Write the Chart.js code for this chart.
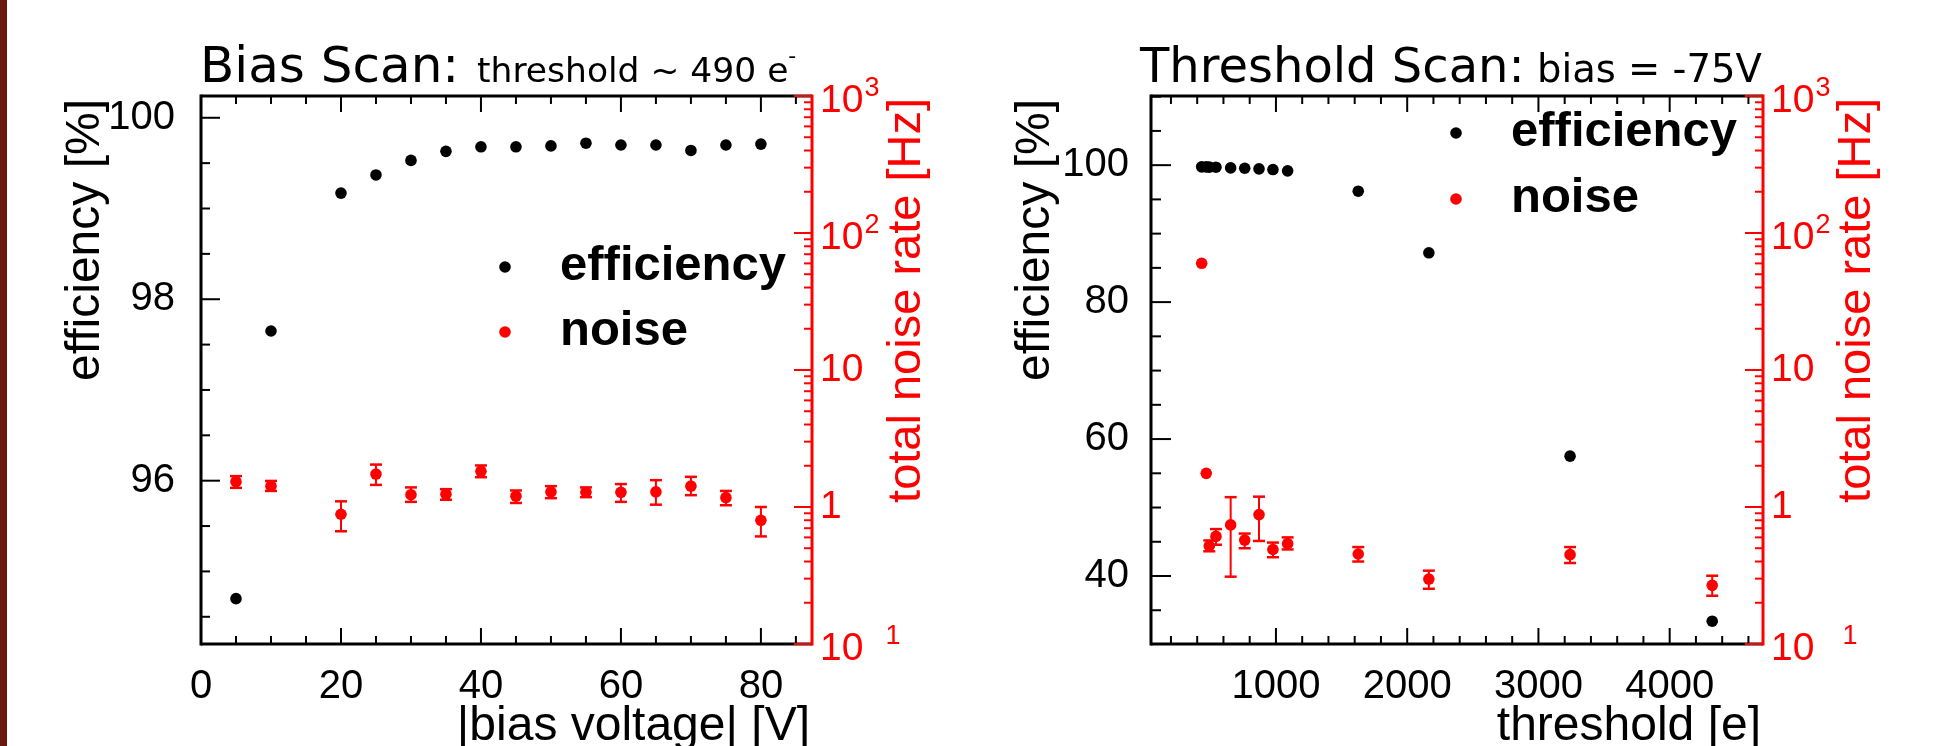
<!DOCTYPE html>
<html>
<head>
<meta charset="utf-8">
<script src="https://cdn.jsdelivr.net/npm/chart.js@4.4.1/dist/chart.umd.min.js"></script>
<style>
  html, body { margin: 0; padding: 0; background: #fff; }
  body { width: 1945px; height: 746px; position: relative; overflow: hidden; }
  #strip { position: absolute; left: 0; top: 0; width: 7px; height: 746px; background: #6b1810; }
  canvas { position: absolute; top: 0; }
  #biasCanvas { left: 0; }
  #thrCanvas { left: 972px; }
</style>
</head>
<body>
<div id="strip"></div>
<canvas id="biasCanvas" width="972" height="746"></canvas>
<canvas id="thrCanvas" width="973" height="746"></canvas>
<script>
// bias scan (threshold ~ 490 e)
const biasVoltage = [5, 10, 20, 25, 30, 35, 40, 45, 50, 55, 60, 65, 70, 75, 80]
const biasEfficiency = [94.70, 97.65, 99.17, 99.37, 99.53, 99.63, 99.68, 99.68, 99.69, 99.72, 99.70, 99.70, 99.64, 99.70, 99.71]
const biasNoise = [1.53, 1.42, 0.885, 1.74, 1.23, 1.24, 1.82, 1.20, 1.29, 1.28, 1.28, 1.29, 1.42, 1.17, 0.80]
const biasNoiseUp = [1.68, 1.55, 1.10, 2.04, 1.39, 1.35, 2.01, 1.32, 1.42, 1.39, 1.47, 1.57, 1.66, 1.31, 1.00]
const biasNoiseDown = [1.38, 1.31, 0.665, 1.45, 1.09, 1.13, 1.65, 1.07, 1.16, 1.18, 1.09, 1.04, 1.22, 1.03, 0.61]
const biasXTicks = [0, 20, 40, 60, 80]
const biasYTicks = [96, 98, 100]

// threshold scan (bias = -75V)
const thrThreshold = [434, 469, 492, 543, 655, 762, 871, 977, 1089, 1627, 2165, 3241, 4324]
const thrEfficiency = [99.75, 99.75, 99.72, 99.70, 99.60, 99.55, 99.46, 99.36, 99.17, 96.2, 87.2, 57.5, 33.4]
const thrNoise = [60.1, 1.76, 0.52, 0.61, 0.74, 0.574, 0.88, 0.49, 0.54, 0.454, 0.298, 0.449, 0.268]
const thrNoiseUp = [null, null, 0.57, 0.69, 1.18, 0.64, 1.19, 0.55, 0.60, 0.51, 0.343, 0.51, 0.315]
const thrNoiseDown = [null, null, 0.475, 0.53, 0.31, 0.50, 0.565, 0.43, 0.49, 0.40, 0.253, 0.39, 0.225]
const thrXTicks = [1000, 2000, 3000, 4000]
const thrYTicks = [40, 60, 80, 100]

// right hand log axis, shared by both panels
const noiseDecades = [0.1, 1, 10, 100, 1000]
const decadeBase = ['10', '1', '10', '10', '10']
const decadeSup = ['1', '', '', '2', '3']

const FONT = '"Liberation Sans", Arial, Helvetica, sans-serif'
const TITLE_FONT = '"DejaVu Sans", sans-serif'
const RED = '#ff0000'
const DOT = 5.8

const panels = [
  {
    canvas: 'biasCanvas', ox: 0, width: 972,
    x: biasVoltage, eff: biasEfficiency, noise: biasNoise, up: biasNoiseUp, down: biasNoiseDown,
    xTicks: biasXTicks, yTicks: biasYTicks,
    xMin: 0, xMax: 87.3, yMin: 94.2, yMax: 100.24,
    xMinor: 5, yMinor: 0.5,
    left: 201, right: 812,
    yLabelPad: 18, yMajorLen: 19, yMinorLen: 9,
    title: 'Bias Scan:', titleX: 200, titleSize: 50,
    subtitle: 'threshold ~ 490 e', subX: 477, subSize: 34.5, subSup: '-',
    xTitle: '|bias voltage| [V]',
    yTitleX: 99, y2TitleX: 920,
    legendX: 505, legendTextX: 560, legendY: [267, 332],
    minusGap: 22
  },
  {
    canvas: 'thrCanvas', ox: 972, width: 973,
    x: thrThreshold, eff: thrEfficiency, noise: thrNoise, up: thrNoiseUp, down: thrNoiseDown,
    xTicks: thrXTicks, yTicks: thrYTicks,
    xMin: 48, xMax: 4711, yMin: 30.07, yMax: 110.1,
    xMinor: 200, yMinor: 5,
    left: 1151, right: 1763,
    yLabelPad: 14, yMajorLen: 20, yMinorLen: 10,
    title: 'Threshold Scan:', titleX: 1140, titleSize: 48,
    subtitle: 'bias = -75V', subX: 1537, subSize: 38.5, subSup: '',
    xTitle: 'threshold [e]',
    yTitleX: 1049, y2TitleX: 1870,
    legendX: 1456, legendTextX: 1511, legendY: [133, 199],
    minusGap: 28
  }
]

const TOP = 96
const BOTTOM = 644

function near(a, b) { return Math.abs(a - b) < 1e-6 }

function seg(ctx, x1, y1, x2, y2) {
  ctx.beginPath()
  ctx.moveTo(x1, y1)
  ctx.lineTo(x2, y2)
  ctx.stroke()
}

function upText(ctx, text, x, y) {
  ctx.save()
  ctx.translate(x, y)
  ctx.rotate(-Math.PI / 2)
  ctx.textAlign = 'right'
  ctx.textBaseline = 'alphabetic'
  ctx.fillText(text, 0, 0)
  ctx.restore()
}

function rootPlugin(p) {
  return {
    id: 'rootFrame',
    beforeDatasetsDraw(chart) {
      const { ctx } = chart
      const xs = chart.scales.x
      const ys = chart.scales.y2
      ctx.save()
      ctx.strokeStyle = RED
      p.x.forEach((xv, i) => {
        if (p.up[i] == null) return
        const px = xs.getPixelForValue(xv)
        const yHi = ys.getPixelForValue(p.up[i])
        const yLo = ys.getPixelForValue(p.down[i])
        ctx.lineWidth = 2
        seg(ctx, px, yHi, px, yLo)
        ctx.lineWidth = 2.5
        seg(ctx, px - 6, yHi, px + 6, yHi)
        seg(ctx, px - 6, yLo, px + 6, yLo)
      })
      ctx.restore()
    },
    afterDraw(chart) {
      const { ctx, chartArea: a } = chart
      const { x, y, y2 } = chart.scales
      const ox = p.ox
      ctx.save()

      // ticks, ROOT style (inside the frame)
      ctx.strokeStyle = '#000'
      ctx.lineWidth = 2
      for (let i = Math.ceil(p.xMin / p.xMinor); i * p.xMinor <= p.xMax; i++) {
        const v = i * p.xMinor
        const px = x.getPixelForValue(v)
        const len = p.xTicks.some(t => near(t, v)) || near(v, 0) ? 16 : 8
        seg(ctx, px, a.bottom, px, a.bottom - len)
        seg(ctx, px, a.top, px, a.top + len)
      }
      for (let i = Math.ceil(p.yMin / p.yMinor); i * p.yMinor <= p.yMax; i++) {
        const v = i * p.yMinor
        const py = y.getPixelForValue(v)
        const len = p.yTicks.some(t => near(t, v)) ? p.yMajorLen : p.yMinorLen
        seg(ctx, a.left, py, a.left + len, py)
      }

      // frame
      ctx.lineWidth = 3
      seg(ctx, a.left, a.top, a.right, a.top)
      seg(ctx, a.left, a.top - 1.5, a.left, a.bottom + 1.5)
      seg(ctx, a.left, a.bottom, a.right, a.bottom)

      // red log axis on the right
      ctx.strokeStyle = RED
      ctx.lineWidth = 2
      for (let e = -1; e <= 3; e++) {
        for (let k = 1; k <= 9; k++) {
          const v = k * Math.pow(10, e)
          if (v > 1000 * 1.0001) break
          const py = y2.getPixelForValue(v)
          seg(ctx, a.right, py, a.right - (k === 1 ? 18 : 8), py)
        }
      }
      ctx.lineWidth = 3
      seg(ctx, a.right, a.top - 1.5, a.right, a.bottom + 1.5)

      ctx.fillStyle = RED
      ctx.textAlign = 'left'
      noiseDecades.forEach((v, i) => {
        const py = y2.getPixelForValue(v)
        const lx = a.right + 8
        ctx.font = `39px ${FONT}`
        ctx.textBaseline = 'middle'
        if (!decadeSup[i]) {
          ctx.fillText(decadeBase[i], lx, py)
          return
        }
        ctx.fillText(decadeBase[i], lx, py + 5)
        const w = ctx.measureText(decadeBase[i]).width
        ctx.font = `27px ${FONT}`
        ctx.textBaseline = 'alphabetic'
        ctx.fillText(decadeSup[i], lx + w + (v < 1 ? p.minusGap : 1), py)
      })

      // axis titles
      ctx.font = `47px ${FONT}`
      upText(ctx, 'total noise rate [Hz]', p.y2TitleX - ox, 98)
      ctx.fillStyle = '#000'
      ctx.font = `48px ${FONT}`
      upText(ctx, 'efficiency [%]', p.yTitleX - ox, 99)
      ctx.textAlign = 'right'
      ctx.textBaseline = 'alphabetic'
      ctx.fillText(p.xTitle, a.right - 2, 740)

      // pad title
      ctx.textAlign = 'left'
      ctx.font = `${p.titleSize}px ${TITLE_FONT}`
      ctx.fillText(p.title, p.titleX - ox, 82)
      ctx.font = `${p.subSize}px ${TITLE_FONT}`
      ctx.fillText(p.subtitle, p.subX - ox, 82)
      if (p.subSup) {
        const w = ctx.measureText(p.subtitle).width
        ctx.font = `22px ${TITLE_FONT}`
        ctx.fillText(p.subSup, p.subX - ox + w, 63)
      }

      // legend
      const ds = chart.data.datasets
      ;[ds[1], ds[0]].forEach((d, i) => {
        const ly = p.legendY[i]
        ctx.fillStyle = d.backgroundColor
        ctx.beginPath()
        ctx.arc(p.legendX - ox, ly, DOT, 0, Math.PI * 2)
        ctx.fill()
        ctx.fillStyle = '#000'
        ctx.font = `bold 49px ${FONT}`
        ctx.fillText(d.label, p.legendTextX - ox, ly + 13)
      })
      ctx.restore()
    }
  }
}

function buildPanel(p) {
  const el = document.getElementById(p.canvas)
  const tickFont = { family: FONT, size: 40 }
  return new Chart(el, {
    type: 'scatter',
    data: {
      datasets: [
        {
          label: 'noise',
          data: p.x.map((v, i) => ({ x: v, y: p.noise[i] })),
          yAxisID: 'y2',
          backgroundColor: RED,
          borderWidth: 0,
          pointRadius: DOT,
          pointHoverRadius: DOT
        },
        {
          label: 'efficiency',
          data: p.x.map((v, i) => ({ x: v, y: p.eff[i] })),
          yAxisID: 'y',
          backgroundColor: '#000',
          borderWidth: 0,
          pointRadius: DOT,
          pointHoverRadius: DOT
        }
      ]
    },
    options: {
      responsive: false,
      animation: false,
      events: [],
      layout: { padding: { top: TOP, left: 0, right: 0, bottom: 0 } },
      plugins: { legend: { display: false }, tooltip: { enabled: false } },
      scales: {
        x: {
          type: 'linear',
          position: 'bottom',
          min: p.xMin,
          max: p.xMax,
          grid: { display: false },
          border: { display: false },
          afterBuildTicks: s => { s.ticks = p.xTicks.map(v => ({ value: v })) },
          afterFit: s => { s.height = 746 - BOTTOM },
          ticks: {
            font: tickFont, color: '#000', padding: 11,
            maxRotation: 0, autoSkip: false,
            callback: v => String(v)
          }
        },
        y: {
          type: 'linear',
          position: 'left',
          min: p.yMin,
          max: p.yMax,
          grid: { display: false },
          border: { display: false },
          afterBuildTicks: s => { s.ticks = p.yTicks.map(v => ({ value: v })) },
          afterFit: s => { s.width = p.left - p.ox },
          ticks: {
            font: tickFont, color: '#000', padding: p.yLabelPad, autoSkip: false,
            callback: v => String(v)
          }
        },
        y2: {
          type: 'logarithmic',
          position: 'right',
          min: 0.1,
          max: 1000,
          grid: { display: false },
          border: { display: false },
          afterFit: s => { s.width = p.ox + p.width - p.right },
          ticks: { display: false }
        }
      }
    },
    plugins: [rootPlugin(p)]
  })
}

panels.forEach(buildPanel)
</script>
</body>
</html>
